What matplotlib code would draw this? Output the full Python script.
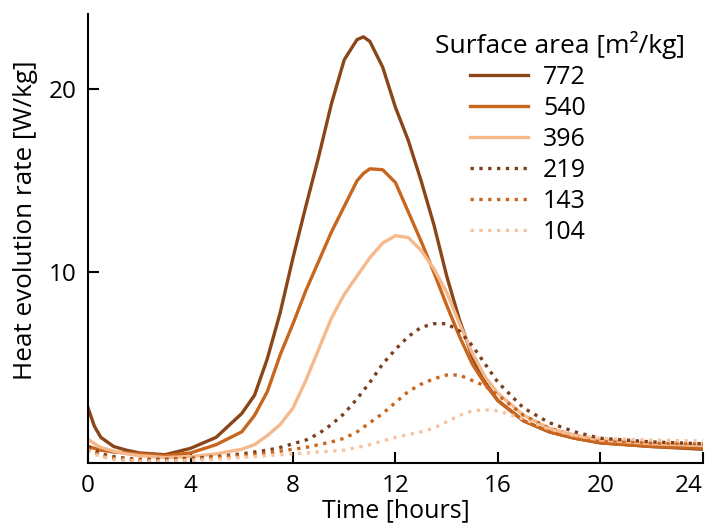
import matplotlib
matplotlib.use("Agg")
import matplotlib.pyplot as plt

plt.rcParams['font.family'] = ['Open Sans', 'DejaVu Sans']

# Time axis [hours], shared by all series
hours = [0, 0.25, 0.5, 1, 1.5, 2, 3, 4, 5, 6, 6.5, 7, 7.5, 8, 8.5, 9, 9.5, 10,
         10.5, 10.75, 11, 11.5, 12, 12.5, 13, 13.5, 14, 14.5, 15, 15.5, 16, 17,
         18, 19, 20, 22, 24]

# Heat evolution rate [W/kg] for each surface area [m2/kg]
rate_772 = [2.6, 1.6, 1.0, 0.5, 0.3, 0.15, 0.05, 0.4, 1.0, 2.3, 3.3, 5.3, 7.8,
            10.8, 13.6, 16.3, 19.2, 21.6, 22.7, 22.85, 22.6, 21.2, 19.0, 17.2,
            15.0, 12.6, 9.8, 7.4, 5.4, 4.0, 3.0, 1.9, 1.3, 0.95, 0.7, 0.5, 0.35]
rate_540 = [0.5, 0.4, 0.3, 0.2, 0.15, 0.1, 0.0, 0.15, 0.6, 1.3, 2.2, 3.5, 5.5,
            7.2, 9.0, 10.6, 12.2, 13.6, 15.0, 15.4, 15.65, 15.6, 14.9, 13.3,
            11.7, 10.0, 8.2, 6.5, 5.0, 3.9, 3.0, 1.9, 1.3, 0.95, 0.7, 0.5, 0.4]
rate_396 = [0.9, 0.65, 0.45, 0.25, 0.1, 0.0, -0.1, -0.05, 0.1, 0.35, 0.6, 1.1,
            1.7, 2.6, 4.1, 5.8, 7.5, 8.8, 9.8, 10.3, 10.8, 11.6, 12.0, 11.9,
            11.2, 10.2, 8.9, 7.2, 5.6, 4.3, 3.4, 2.2, 1.5, 1.1, 0.85, 0.65,
            0.55]
rate_219 = [0.5, 0.3, 0.1, -0.05, -0.15, -0.2, -0.2, -0.15, -0.05, 0.1, 0.2,
            0.3, 0.45, 0.65, 0.85, 1.2, 1.7, 2.3, 3.1, 3.55, 4.0, 5.0, 5.8, 6.5,
            7.0, 7.2, 7.2, 6.8, 6.0, 5.0, 4.0, 2.6, 1.8, 1.3, 0.95, 0.75, 0.65]
rate_143 = [0.4, 0.2, 0.0, -0.15, -0.2, -0.25, -0.25, -0.2, -0.1, 0.0, 0.05,
            0.15, 0.25, 0.35, 0.45, 0.6, 0.75, 0.95, 1.3, 1.55, 1.8, 2.3, 2.9,
            3.5, 3.9, 4.2, 4.4, 4.4, 4.1, 3.8, 3.3, 2.2, 1.5, 1.1, 0.85, 0.7,
            0.65]
rate_104 = [0.3, 0.1, -0.05, -0.2, -0.25, -0.3, -0.3, -0.25, -0.2, -0.1, -0.05,
            0.0, 0.05, 0.1, 0.15, 0.2, 0.25, 0.3, 0.45, 0.52, 0.6, 0.8, 1.0,
            1.15, 1.3, 1.5, 1.85, 2.2, 2.45, 2.5, 2.45, 2.0, 1.45, 1.1, 0.95,
            0.85, 0.8]

labels = ["772", "540", "396", "219", "143", "104"]
series = [rate_772, rate_540, rate_396, rate_219, rate_143, rate_104]
colors = ["#8a4519", "#c8661e", "#f5b98c", "#7d3f1c", "#c8661e", "#f7c3a0"]
styles = ["-", "-", "-", ":", ":", ":"]

fig = plt.figure(figsize=(7.1, 5.24), dpi=100)
ax = fig.add_axes([0.124, 0.1164, 0.866, 0.857])

for y, lab, c, ls in zip(series, labels, colors, styles):
    ax.plot(hours, y, color=c, linestyle=ls, linewidth=2.4, label=lab)

ax.set_xlim(0, 24)
ax.set_ylim(-0.4, 24.1)
ax.set_xticks([0, 4, 8, 12, 16, 20, 24])
ax.set_yticks([10, 20])
ax.tick_params(direction="in", length=8, width=1.5, labelsize=17.5, pad=8)
# keep the last tick label inside the figure
ax.get_xticklabels()[-1].set_horizontalalignment("right")

for side in ["top", "right"]:
    ax.spines[side].set_visible(False)
for side in ["left", "bottom"]:
    ax.spines[side].set_linewidth(1.5)

ax.set_xlabel("Time [hours]", fontsize=18, labelpad=0)
ax.set_ylabel("Heat evolution rate [W/kg]", fontsize=18.8)
ax.yaxis.set_label_coords(-0.082, 0.54)

# legend title drawn as its own text so the entries can sit indented under it
ax.text(0.564, 0.913, "Surface area [m²/kg]", transform=ax.transAxes,
        fontsize=19, ha="left", va="baseline")
ax.legend(loc="upper left", bbox_to_anchor=(0.622, 0.886), frameon=False,
          fontsize=18, handlelength=2.3, handletextpad=0.6,
          labelspacing=0.24, borderpad=0, borderaxespad=0)

fig.savefig("out.png", dpi=100)
